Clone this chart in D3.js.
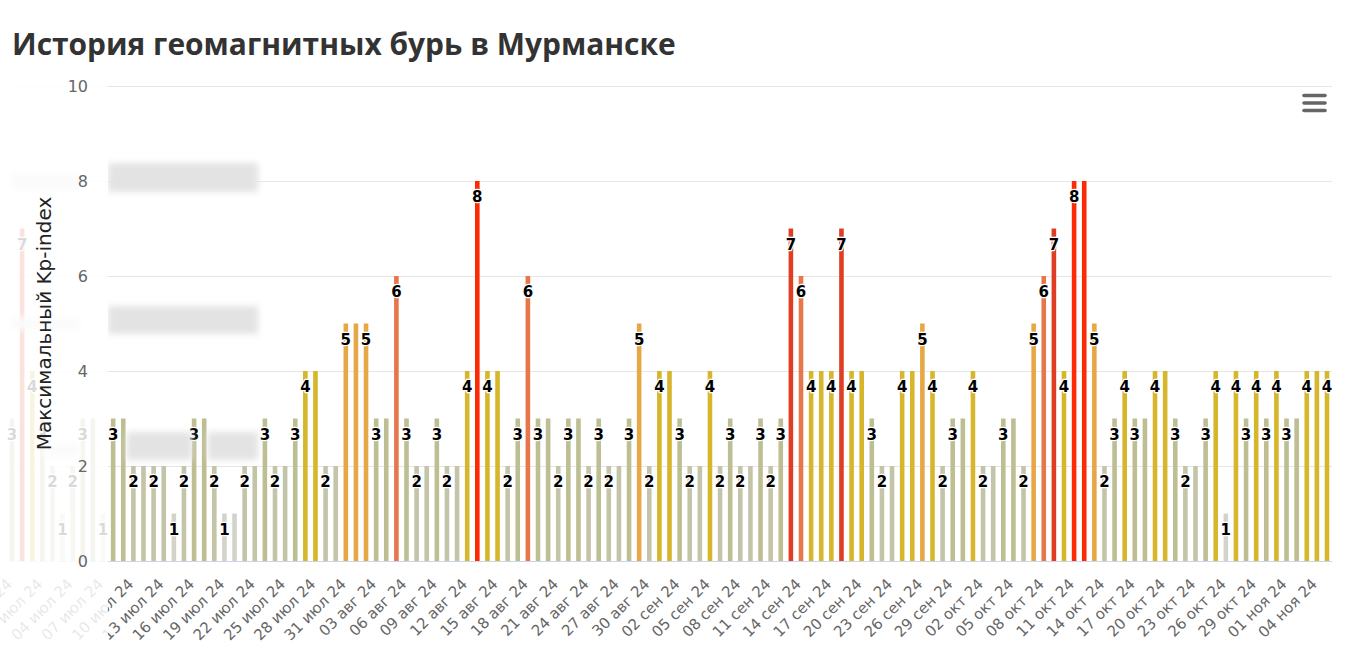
<!DOCTYPE html>
<html><head><meta charset="utf-8">
<script src="https://cdn.jsdelivr.net/npm/d3@7/dist/d3.min.js"></script>
<style>
html,body{margin:0;padding:0;background:#fff;}
svg{display:block;}
</style></head>
<body>
<svg id="chart" width="1359" height="652"></svg>
<script>
// ---------- data ----------
const title = "История геомагнитных бурь в Мурманске";
const yTitle = "Максимальный Kp-index";
const firstDay = [2024, 5, 27];   // 27 июн 2024
const lastDay  = [2024, 10, 4];   // 04 ноя 2024
const kpValues = [
  3,7,4,3,                                                             // июн 27-30
  2,1,2,3,3,1,3,3,2,2,2,2,1,2,3,3,2,1,1,2,2,3,2,2,3,4,4,2,2,5,5,         // июл
  5,3,3,6,3,2,2,3,2,2,4,8,4,4,2,3,6,3,3,2,3,3,2,3,2,2,3,5,2,4,4,         // авг
  3,2,2,4,2,3,2,2,3,2,3,7,6,4,4,4,7,4,4,3,2,2,4,4,5,4,2,3,3,4,           // сен
  2,2,3,3,2,5,6,7,4,8,8,5,2,3,4,3,3,4,4,3,2,2,3,4,1,4,3,4,3,4,3,         // окт
  3,4,4,4                                                              // ноя
];
const yTicks = [0, 2, 4, 6, 8, 10];
const tickStart = [2024, 5, 28];  // x ticks every 3 days from 28 июн
const tickStepDays = 3;
const monthNames = ["янв","фев","мар","апр","мая","июн","июл","авг","сен","окт","ноя","дек"];
const kpLevels = [1, 2, 3, 4, 5, 6, 7, 8];
const kpColors = ["#d3d3cb", "#c4c4a9", "#bebe93", "#d6b62b", "#e8a747", "#e8764c", "#e03e24", "#fc2a05"];

// ---------- layout ----------
const W = 1359, H = 652;
const plotLeft = 10, plotRight = 1332, plotTop = 86, plotBottom = 561;
const fixedWidth = 108;

const svg = d3.select("#chart");
const dates = d3.utcDay.range(new Date(Date.UTC(...firstDay)), d3.utcDay.offset(new Date(Date.UTC(...lastDay)), 1));
const data = dates.map((d, i) => ({date: d, v: kpValues[i]}));

const x = d3.scaleUtc()
  .domain([d3.utcMinute.offset(dates[0], -285), d3.utcMinute.offset(dates[dates.length - 1], 713)])
  .range([plotLeft, plotRight]);
const y = d3.scaleLinear().domain([0, 10]).range([plotBottom, plotTop]);
const color = d3.scaleOrdinal().domain(kpLevels).range(kpColors);

// blur filter
const defs = svg.append("defs");
defs.append("filter").attr("id", "blur").attr("x", "-20%").attr("y", "-50%").attr("width", "140%").attr("height", "200%")
  .append("feGaussianBlur").attr("stdDeviation", 3);

// gridlines
svg.append("g").selectAll("line").data(yTicks.filter(t => t > 0)).join("line")
  .attr("x1", plotLeft).attr("x2", plotRight)
  .attr("y1", d => y(d) + 0.5).attr("y2", d => y(d) + 0.5)
  .attr("stroke", "#e6e6e6").attr("stroke-width", 1);

// x axis line
svg.append("line").attr("x1", plotLeft).attr("x2", plotRight)
  .attr("y1", y(0) + 0.5).attr("y2", y(0) + 0.5)
  .attr("stroke", "#ccd6eb").attr("stroke-width", 1);

// bars
const barW = 4.6;
svg.append("g").selectAll("rect").data(data).join("rect")
  .attr("x", d => x(d.date) - barW / 2)
  .attr("y", d => y(d.v))
  .attr("width", barW)
  .attr("height", d => y(0) - y(d.v))
  .attr("fill", d => color(d.v));

// data labels with simple overlap hiding
const shown = [];
const labelW = 14;
data.forEach(d => {
  const lx = x(d.date), ly = y(d.v);
  const clash = shown.some(s => Math.abs(s.lx - lx) < labelW && Math.abs(s.ly - ly) < 18);
  if (!clash) shown.push({lx, ly, v: d.v});
});
svg.append("g").selectAll("text").data(shown).join("text")
  .attr("x", d => d.lx).attr("y", d => d.ly + 21)
  .attr("text-anchor", "middle")
  .attr("font-family", "DejaVu Sans, sans-serif").attr("font-size", 15).attr("font-weight", "bold")
  .attr("fill", "#000").attr("stroke", "#fff").attr("stroke-width", 2.5)
  .attr("stroke-linejoin", "round").attr("paint-order", "stroke")
  .text(d => d.v);

// blurred placeholder blocks
const blocks = [
  [108, 163, 150, 29], [108, 306, 150, 28], [127, 432, 65, 28], [208, 432, 50, 28],
  [11, 173, 69, 17], [11, 317, 69, 13], [43, 443, 37, 14]
];
svg.append("g").attr("filter", "url(#blur)").selectAll("rect").data(blocks).join("rect")
  .attr("x", d => d[0]).attr("y", d => d[1]).attr("width", d => d[2]).attr("height", d => d[3])
  .attr("fill", "#e3e3e3");

// x tick labels
const tickDates = d3.utcDay.range(new Date(Date.UTC(...tickStart)), d3.utcDay.offset(dates[dates.length - 1], 1), tickStepDays);
const fmt = d => String(d.getUTCDate()).padStart(2, "0") + " " + monthNames[d.getUTCMonth()] + " " + String(d.getUTCFullYear()).slice(2);
svg.append("g").selectAll("text").data(tickDates).join("text")
  .attr("transform", d => `translate(${x(d) - 9},${585}) rotate(-45)`)
  .attr("text-anchor", "end")
  .attr("font-family", "DejaVu Sans, sans-serif").attr("font-size", 15)
  .attr("fill", "#666")
  .text(fmt);

// fixed-area fade overlay
svg.append("rect").attr("x", 0).attr("y", 0).attr("width", fixedWidth).attr("height", H)
  .attr("fill", "#fff").attr("opacity", 0.85);

// y tick labels
svg.append("g").selectAll("text").data(yTicks).join("text")
  .attr("x", 88).attr("y", d => y(d) + 6)
  .attr("text-anchor", "end")
  .attr("font-family", "DejaVu Sans, sans-serif").attr("font-size", 16)
  .attr("fill", "#666")
  .text(d => d);

// y axis title
svg.append("text")
  .attr("transform", `translate(51,${(plotTop + plotBottom) / 2 + 0}) rotate(-90)`)
  .attr("text-anchor", "middle")
  .attr("font-family", "DejaVu Sans, sans-serif").attr("font-size", 20)
  .attr("fill", "#222")
  .text(yTitle);

// chart title
const t = svg.append("text")
  .attr("x", 12).attr("y", 55)
  .attr("font-family", "Open Sans, sans-serif").attr("font-size", 28).attr("font-weight", "bold")
  .attr("fill", "#333")
  .text(title);
const len = t.node().getComputedTextLength();
t.attr("font-size", 28 * 664 / len);

// menu icon
svg.append("g").selectAll("line").data([0, 1, 2]).join("line")
  .attr("x1", 1304).attr("x2", 1325)
  .attr("y1", d => 95.5 + d * 7.5).attr("y2", d => 95.5 + d * 7.5)
  .attr("stroke", "#666").attr("stroke-width", 3.6).attr("stroke-linecap", "round");
</script>
</body></html>
